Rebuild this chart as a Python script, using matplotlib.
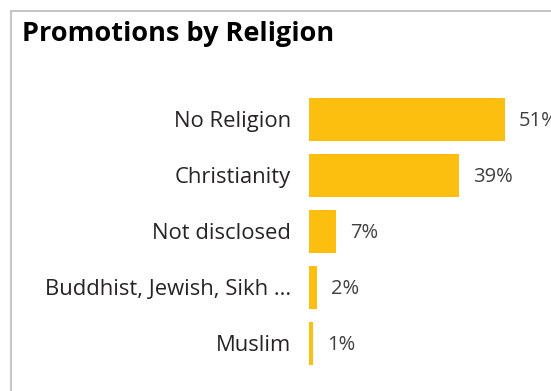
import matplotlib.pyplot as plt
from matplotlib.lines import Line2D

religions = ['No Religion', 'Christianity', 'Not disclosed',
             'Buddhist, Jewish, Sikh ...', 'Muslim']
promotion_share = [51, 39, 7, 2, 1]

W, H = 551, 391
DPI = 100
BAR_COLOR = '#FCBF10'
LABEL_COLOR = '#252423'
VALUE_COLOR = '#404040'

plt.rcParams['font.family'] = ['Open Sans', 'DejaVu Sans']

fig = plt.figure(figsize=(W / DPI, H / DPI), dpi=DPI)
fig.patch.set_facecolor('white')


def px(x, y):
    # pixel coords measured from top-left -> figure fraction
    return x / W, 1 - y / H


# visual frame: left and top edges only, the rest is clipped
fig.add_artist(Line2D([10.5 / W, 10.5 / W], [0, 1 - 10.5 / H],
                      transform=fig.transFigure, color='#c6c6c6', lw=1.5))
fig.add_artist(Line2D([10.5 / W, 1], [1 - 10.5 / H, 1 - 10.5 / H],
                      transform=fig.transFigure, color='#c6c6c6', lw=1.5))

fig.text(*px(22, 34), 'Promotions by Religion', fontsize=19.5,
         fontweight='bold', color='black', va='center', ha='left')

# axes: bars start at x=309, 56 px per row
left, right = 309, W
top, bottom = 91.5, 91.5 + 56 * len(religions)
ax = fig.add_axes([left / W, 1 - bottom / H, (right - left) / W, (bottom - top) / H])
px_per_pct = 196 / 51
ax.set_xlim(0, (right - left) / px_per_pct)
ax.set_ylim(len(religions) - 0.5, -0.5)
ax.axis('off')

ypos = range(len(religions))
ax.barh(ypos, promotion_share, height=43 / 56, color=BAR_COLOR)

# labels sit a touch below the bar centre
dy = -2 * 0.72
for y, name, val in zip(ypos, religions, promotion_share):
    ax.annotate(name, xy=(0, y), xytext=(-18 * 0.72, dy), textcoords='offset points',
                ha='right', va='center', fontsize=15.8, color=LABEL_COLOR,
                annotation_clip=False)
    ax.annotate(f'{val}%', xy=(val, y), xytext=(14 * 0.72, dy), textcoords='offset points',
                ha='left', va='center', fontsize=14.5, color=VALUE_COLOR,
                annotation_clip=False)

fig.savefig('out.png', dpi=DPI)
